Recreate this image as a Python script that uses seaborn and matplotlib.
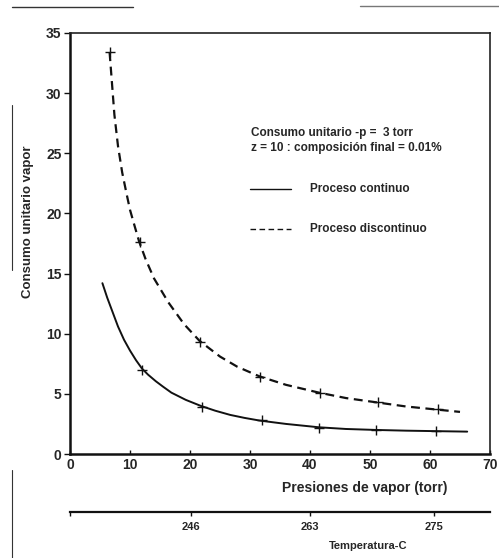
import numpy as np
import pandas as pd
import matplotlib
matplotlib.use("Agg")
import matplotlib.pyplot as plt
import seaborn as sns
from matplotlib import font_manager

# ---- data ----
cont_curve_x = [5.4, 6.2, 7.1, 8.0, 9.0, 10.0, 11.0, 12.0, 13.0, 14.3, 15.5, 16.9, 19.3, 21.8, 24.2, 26.7, 29.1, 31.6, 36.0, 41.5, 46.0, 51.0, 56.0, 61.0, 66.2]
cont_curve_y = [14.2, 13.0, 11.8, 10.6, 9.5, 8.6, 7.8, 7.1, 6.6, 6.05, 5.6, 5.1, 4.5, 4.0, 3.6, 3.25, 3.0, 2.78, 2.5, 2.22, 2.08, 2.0, 1.94, 1.9, 1.86]
disc_curve_x = [6.6, 7.4, 8.0, 8.7, 9.4, 10.0, 10.8, 11.5, 12.6, 14.0, 16.4, 19.0, 21.6, 25.0, 27.9, 31.6, 36.0, 41.5, 46.0, 51.0, 56.0, 61.0, 65.0]
disc_curve_y = [33.4, 28.2, 25.6, 23.4, 21.7, 20.3, 18.9, 17.7, 16.2, 14.6, 12.6, 10.8, 9.4, 8.1, 7.25, 6.45, 5.75, 5.1, 4.65, 4.3, 3.95, 3.7, 3.5]
cont_pts_x = [12.0, 22.0, 32.0, 41.5, 51.0, 61.0]
cont_pts_y = [7.0, 3.9, 2.8, 2.2, 2.0, 1.9]
disc_pts_x = [6.6, 11.6, 21.7, 31.7, 41.6, 51.3, 61.3]
disc_pts_y = [33.4, 17.6, 9.3, 6.4, 5.1, 4.3, 3.7]
x_ticks = [0, 10, 20, 30, 40, 50, 60, 70]
y_ticks = [0, 5, 10, 15, 20, 25, 30, 35]
temp_tick_pos = [20.1, 40.0, 60.6]
temp_tick_labels = ["246", "263", "275"]

sns.set_theme(style="white")
avail = {f.name for f in font_manager.fontManager.ttflist}
fam = "Liberation Sans Narrow" if "Liberation Sans Narrow" in avail else "Liberation Sans"
plt.rcParams["font.family"] = [fam, "DejaVu Sans"]
plt.rcParams["font.weight"] = "bold"

W, H = 499, 558
fig = plt.figure(figsize=(W / 100, H / 100), dpi=100)
fig.patch.set_facecolor("white")

def fx(px):
    return px / W

def fy(py):
    return 1 - py / H

L, R, T, B = 70, 490, 33, 454
ax = fig.add_axes([fx(L), fy(B), fx(R - L), (B - T) / H])
ax.set_facecolor("white")

cont_df = pd.DataFrame({"x": cont_curve_x, "y": cont_curve_y})
disc_df = pd.DataFrame({"x": disc_curve_x, "y": disc_curve_y})
sns.lineplot(data=cont_df, x="x", y="y", ax=ax, color="#111111", lw=1.4,
             estimator=None, sort=True)
sns.lineplot(data=disc_df, x="x", y="y", ax=ax, color="#111111", lw=1.6,
             estimator=None, sort=True, dashes=False, linestyle=(0, (4, 2.5)))
ax.scatter(cont_pts_x, cont_pts_y, marker="+", s=60, color="#111111", linewidths=1.0, zorder=3)
ax.scatter(disc_pts_x, disc_pts_y, marker="+", s=60, color="#111111", linewidths=1.0, zorder=3)

ax.set_xlim(0, 70)
ax.set_ylim(0, 35)
ax.set_xticks(x_ticks)
ax.set_yticks(y_ticks)
ax.set_xticklabels([str(v) for v in x_ticks], fontsize=10, fontweight="bold")
ax.set_yticklabels([str(v) for v in y_ticks], fontsize=10, fontweight="bold")
ax.tick_params(axis="y", direction="out", length=4, width=1, pad=2, color="#111111", left=True)
ax.tick_params(axis="x", direction="in", length=3, width=1, pad=3, color="#111111", bottom=True)
ax.set_xlabel("")
ax.set_ylabel("")
for side in ["left", "bottom"]:
    ax.spines[side].set_linewidth(1.8)
    ax.spines[side].set_color("#111111")
for side in ["top", "right"]:
    ax.spines[side].set_linewidth(1.2)
    ax.spines[side].set_color("#222222")
    ax.spines[side].set_visible(True)

# legend / annotation block
ax.text(0.43, 0.763, "Consumo unitario -p =  3 torr", transform=ax.transAxes,
        fontsize=8.5, fontweight="bold", va="center", ha="left")
ax.text(0.43, 0.726, "z = 10 : composición final = 0.01%", transform=ax.transAxes,
        fontsize=8.5, fontweight="bold", va="center", ha="left")
ax.plot([0.428, 0.525], [0.63, 0.63], transform=ax.transAxes, color="#111111", lw=1.0)
ax.plot([0.428, 0.525], [0.535, 0.535], transform=ax.transAxes, color="#111111", lw=1.0,
        linestyle=(0, (4, 2.5)))
ax.text(0.572, 0.63, "Proceso continuo", transform=ax.transAxes,
        fontsize=8.5, fontweight="bold", va="center", ha="left")
ax.text(0.572, 0.535, "Proceso discontinuo", transform=ax.transAxes,
        fontsize=8.5, fontweight="bold", va="center", ha="left")

# axis labels
fig.text(fx(365), fy(488), "Presiones de vapor (torr)", fontsize=10, fontweight="bold",
         ha="center", va="center")
fig.text(fx(28), fy(222), "Consumo unitario vapor", fontsize=9.5, fontweight="bold",
         ha="center", va="center", rotation=90)

# secondary temperature axis
ax2 = fig.add_axes([fx(L), fy(512), fx(R - L), 0.0001])
ax2.set_xlim(0, 70)
ax2.set_ylim(0, 1)
ax2.set_facecolor("none")
for side in ["left", "right", "top"]:
    ax2.spines[side].set_visible(False)
ax2.spines["bottom"].set_linewidth(1.6)
ax2.spines["bottom"].set_color("#111111")
ax2.set_yticks([])
ax2.set_xticks([0] + temp_tick_pos)
ax2.set_xticklabels([""] + temp_tick_labels, fontsize=8, fontweight="bold")
ax2.tick_params(axis="x", direction="out", length=3, width=1, pad=4, color="#111111", bottom=True)
fig.text(fx(368), fy(546), "Temperatura-C", fontsize=8, fontweight="bold",
         ha="center", va="center")

# scan edge lines
fig.add_artist(plt.Line2D([fx(12), fx(133)], [fy(7), fy(7)], color="#333333", lw=1.0))
fig.add_artist(plt.Line2D([fx(360), fx(499)], [fy(6), fy(6)], color="#777777", lw=1.0))
fig.add_artist(plt.Line2D([fx(12), fx(12)], [fy(105), fy(270)], color="#333333", lw=0.8))
fig.add_artist(plt.Line2D([fx(12), fx(12)], [fy(470), fy(558)], color="#333333", lw=0.8))

fig.savefig("out.png", dpi=100, facecolor="white")
